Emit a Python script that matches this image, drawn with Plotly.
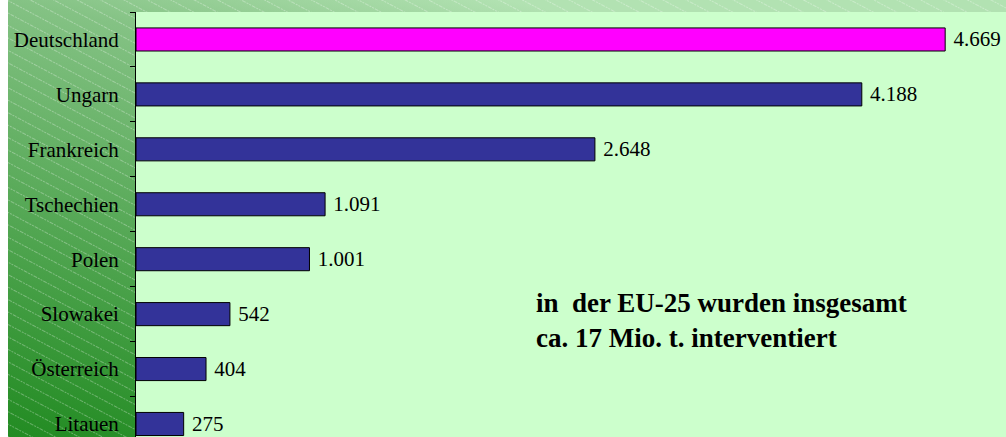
import base64
import plotly.graph_objects as go

countries = ["Deutschland", "Ungarn", "Frankreich", "Tschechien", "Polen",
             "Slowakei", "Österreich", "Litauen"]
values = [4669, 4188, 2648, 1091, 1001, 542, 404, 275]
bar_colors = ["#ff00ff", "#333399", "#333399", "#333399", "#333399",
              "#333399", "#333399", "#333399"]
labels = ["\u00a0" + f"{v:,}".replace(",", ".") for v in values]
note = "<b>in\u00a0 der EU-25 wurden insgesamt<br>ca. 17 Mio. t. interventiert</b>"

W, H = 998, 437
ML, MT = 128, 12
PW, PH = W - ML, H - MT

svg = f"""<svg xmlns="http://www.w3.org/2000/svg" width="{W}" height="{H}" viewBox="0 0 {W} {H}">
<defs>
<linearGradient id="g" x1="0" y1="1" x2="0.5" y2="0">
<stop offset="0" stop-color="#228b22"/>
<stop offset="0.8" stop-color="#84c284"/>
<stop offset="1" stop-color="#b2e2b2"/>
</linearGradient>
<pattern id="p" width="11" height="11" patternUnits="userSpaceOnUse" patternTransform="rotate(28)">
<line x1="0" y1="0.5" x2="11" y2="0.5" stroke="#ffffff" stroke-opacity="0.3" stroke-width="1" stroke-dasharray="2,1"/>
</pattern>
</defs>
<rect width="{W}" height="{H}" fill="url(#g)"/>
<rect width="{W}" height="{H}" fill="url(#p)"/>
</svg>"""
src = "data:image/svg+xml;base64," + base64.b64encode(svg.encode()).decode()

fig = go.Figure(go.Bar(
    x=values, y=countries, orientation="h",
    marker=dict(color=bar_colors, line=dict(color="black", width=1)),
    text=labels, textposition="outside", cliponaxis=False,
    constraintext="none",
    textfont=dict(family="Liberation Serif", size=21, color="black"),
    hoverinfo="skip",
))

fig.update_layout(
    width=W, height=H,
    margin=dict(l=ML, r=0, t=MT, b=0, pad=0),
    paper_bgcolor="white",
    plot_bgcolor="rgba(0,0,0,0)",
    bargap=0.58,
    showlegend=False,
    font=dict(family="Liberation Serif", size=21, color="black"),
    xaxis=dict(range=[0, 5020], visible=False, fixedrange=True),
    yaxis=dict(
        type="category", range=[7.237, -0.5],
        showline=True, linecolor="black", linewidth=1,
        ticks="outside", ticklen=5, tickcolor="black", tickson="boundaries",
        ticklabelstandoff=12, showgrid=False, zeroline=False,
        tickfont=dict(family="Liberation Serif", size=21, color="black"),
    ),
    images=[dict(
        source=src, xref="paper", yref="paper",
        x=-ML / PW, y=H / PH,
        sizex=W / PW, sizey=H / PH,
        xanchor="left", yanchor="top", sizing="stretch", layer="below",
    )],
    shapes=[dict(
        type="rect", xref="paper", yref="paper", x0=0, x1=1, y0=0, y1=1,
        fillcolor="#ccffcc", line=dict(width=0), layer="below",
    )],
    annotations=[dict(
        text=note, xref="paper", yref="paper",
        x=(526 - ML) / PW, y=(H - 320) / PH,
        xanchor="left", yanchor="middle", align="left", showarrow=False,
        font=dict(family="Liberation Serif", size=27, color="black"),
    )],
)

fig.write_html(
    "out.html",
    post_script="document.body.style.margin='0px 0px 0px 8px';"
                "document.body.style.overflow='hidden';",
)
